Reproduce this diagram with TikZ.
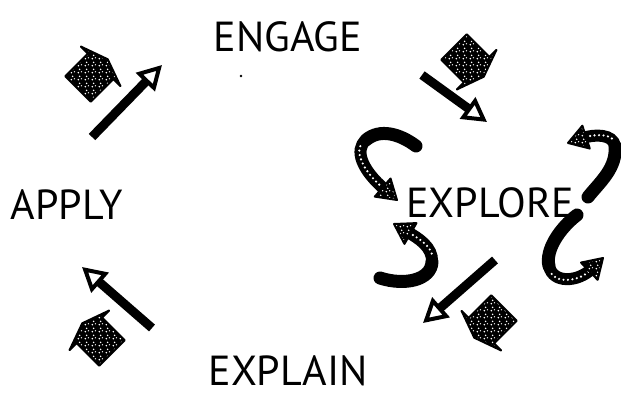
\documentclass[tikz,border=0pt]{standalone}
\usepackage{fontspec}
\setmainfont{PT Sans}
\usetikzlibrary{arrows.meta,patterns.meta}

\tikzdeclarepattern{
  name=specks,
  type=uncolored,
  bounding box={(0pt,0pt) and (7pt,7pt)},
  tile size={(7pt,7pt)},
  code={
    \tikzset{x=1pt,y=1pt}
    \fill (1.5,1.5) circle (0.95);
    \fill (5,2.5) circle (0.8);
    \fill (3,5.2) circle (0.9);
  }
}

\newcommand\fatarrow[2]{%
  \begin{scope}[shift={#1},rotate=#2]
    \path[speck] (-24,-18) -- (8,-18) -- (8,-28) -- (18,0) -- (8,28) -- (8,18) -- (-24,18) -- cycle;
  \end{scope}}
\newcommand\hathead[2]{%
  \begin{scope}[shift={#1},rotate=#2]
    \path[speck] (0,0) -- (-19,12) -- (-19,-12) -- cycle;
  \end{scope}}

\begin{document}
\begin{tikzpicture}[x=1pt,y=-1pt,
  lbl/.style={font=\fontsize{42}{42}\selectfont, inner sep=0pt},
  solidarr/.style={line width=9pt, -{Triangle[open,fill=white,length=24pt,width=26pt,line width=4pt]}},
  speck/.style={preaction={fill=black}, pattern=specks, pattern color=white, draw=black, line width=2pt, line join=round},
  blackstroke/.style={line width=13pt, line cap=round},
  hatchstroke/.style={line width=12pt, shorten >=16pt},
  hatchdots/.style={white, line width=2.4pt, dash pattern=on 0pt off 4.5pt, line cap=round, shorten >=19pt, shorten <=4pt}
]
\useasboundingbox (0,0) rectangle (621,396);

% labels
\node[lbl] (engage)  at (288,37)  {ENGAGE};
\node[lbl] (apply)   at (67,205)  {APPLY};
\node[lbl] (explore) at (490,203) {EXPLORE};
\node[lbl] (explain) at (288,371) {EXPLAIN};
\node[circle, fill, inner sep=1pt] (dot) at (241,76) {};

% hatched fat arrows
\fatarrow{(95,72)}{45}
\fatarrow{(471,64)}{-45}
\fatarrow{(487,325)}{-135}
\fatarrow{(95,336)}{135}

% solid arrows
\coordinate (tlA) at (92,137);  \coordinate (tlB) at (162,65);
\coordinate (trA) at (422,75);  \coordinate (trB) at (487,122);
\coordinate (brA) at (495,260); \coordinate (brB) at (423,323);
\coordinate (blA) at (152,328); \coordinate (blB) at (82,267);
\draw[solidarr] (tlA) -- (tlB);
\draw[solidarr] (trA) -- (trB);
\draw[solidarr] (brA) -- (brB);
\draw[solidarr] (blA) -- (blB);

% curved arrows around EXPLORE
\coordinate (c1s) at (416,146); \coordinate (c1m) at (366,140); \coordinate (c1t) at (397,200);
\coordinate (c2s) at (380,278); \coordinate (c2m) at (432,262); \coordinate (c2t) at (394,224);
\coordinate (c3s) at (588,197); \coordinate (c3m) at (615,146); \coordinate (c3t) at (568,143);
\coordinate (c4s) at (577,215); \coordinate (c4m) at (549,266); \coordinate (c4t) at (603,258);

\draw[hatchstroke] (c1m) .. controls (354,150) and (362,170) .. (c1t);
\draw[hatchdots]   (c1m) .. controls (354,150) and (362,170) .. (c1t);
\hathead{(c1t)}{-41}
\draw[blackstroke] (c1s) .. controls (400,134) and (380,128) .. (c1m);

\draw[hatchstroke] (c2m) .. controls (433,247) and (418,238) .. (c2t);
\draw[hatchdots]   (c2m) .. controls (433,247) and (418,238) .. (c2t);
\hathead{(c2t)}{150}
\draw[blackstroke] (c2s) .. controls (405,286) and (431,280) .. (c2m);

\draw[hatchstroke] (c3m) .. controls (613,134) and (595,134) .. (c3t);
\draw[hatchdots]   (c3m) .. controls (613,134) and (595,134) .. (c3t);
\hathead{(c3t)}{-162}
\draw[blackstroke] (c3s) .. controls (600,182) and (617,168) .. (c3m);

\draw[hatchstroke] (c4m) .. controls (553,284) and (578,282) .. (c4t);
\draw[hatchdots]   (c4m) .. controls (553,284) and (578,282) .. (c4t);
\hathead{(c4t)}{44}
\draw[blackstroke] (c4s) .. controls (560,228) and (545,250) .. (c4m);
\end{tikzpicture}
\end{document}
